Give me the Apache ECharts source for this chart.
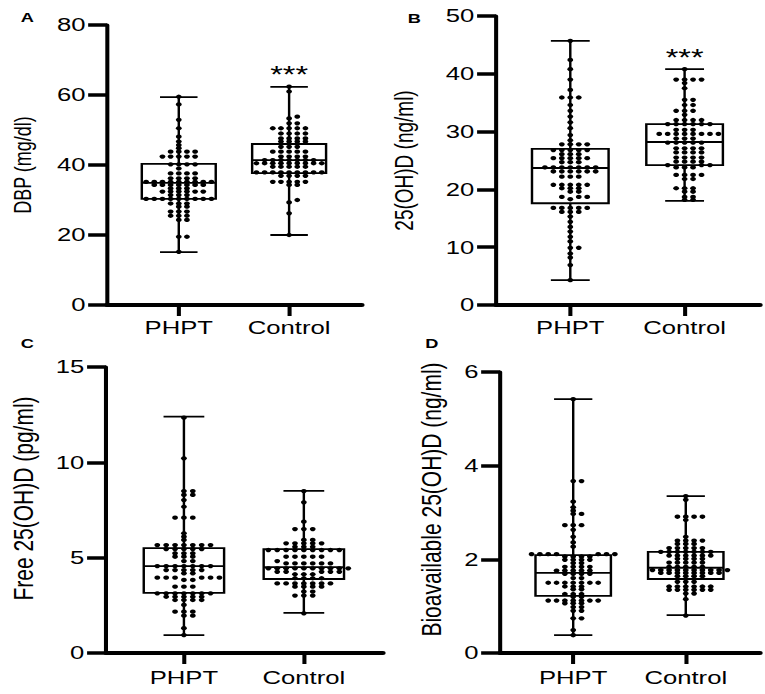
<!DOCTYPE html>
<html>
<head>
<meta charset="utf-8">
<script src="https://cdn.jsdelivr.net/npm/echarts@6.0.0/dist/echarts.min.js"></script>
<style>
  html, body { margin: 0; padding: 0; background: #fff; overflow: hidden; }
  /* the source figure is stretched horizontally, so the chart is drawn narrow and widened */
  #main { width: 567px; height: 694px; transform: scaleX(1.35); transform-origin: 0 0; }
</style>
</head>
<body>
<div id="main"></div>
<script>
const groups = ['PHPT', 'Control'];
const panelLetters = ['A', 'B', 'C', 'D'];
const axisNames = ['DBP (mg/dl)', '25(OH)D (ng/ml)', 'Free 25(OH)D (pg/ml)', 'Bioavailable 25(OH)D (ng/ml)'];
const yMax = [80, 50, 15, 6];
const yStep = [20, 10, 5, 2];
const significance = [['', '***'], ['', '***'], ['', ''], ['', '']];

// box stats per group: [min, q1, median, q3, max]
const boxA = [[15.1, 30.3, 34.9, 40.3, 59.4], [20.0, 37.7, 41.4, 46.0, 62.3]];
const boxB = [[4.3, 17.6, 23.7, 27.0, 45.7], [18.0, 24.2, 28.2, 31.3, 40.8]];
const boxC = [[0.94, 3.15, 4.56, 5.5, 12.4], [2.1, 3.88, 4.5, 5.45, 8.5]];
const boxD = [[0.38, 1.22, 1.71, 2.09, 5.42], [0.81, 1.58, 1.82, 2.16, 3.35]];

// individual subjects
const dbpPhpt = [59.5, 57.3, 52.9, 50.5, 48.1, 46.7, 45.7, 44.8,
  43.8, 43.8, 43.8, 43.8, 42.4, 42.4, 42.4, 42.4, 42.4, 40.2, 40.2, 40.2, 40.2, 39.0,
  37.6, 37.6, 37.6, 37.6, 36.2, 36.2, 36.2, 36.2,
  35.2, 35.2, 35.2, 35.2, 35.2, 35.2, 35.2, 35.2, 35.2,
  34.3, 34.3, 34.3, 34.3, 34.3, 34.3, 34.3, 33.3, 33.3, 33.3,
  32.4, 32.4, 32.4, 32.4, 32.4, 32.4, 31.4, 31.4, 31.4,
  30.3, 30.3, 30.3, 30.3, 30.3, 30.3, 30.3, 30.3, 30.3,
  29.0, 29.0, 29.0, 28.1, 28.1, 26.7, 26.7, 26.7, 25.5, 25.5, 25.5, 24.3, 24.3,
  19.5, 19.5, 15.2];
const dbpControl = [62.4, 61.0, 53.8, 53.3, 51.9, 51.9,
  50.5, 50.5, 50.5, 50.5, 50.5, 49.0, 49.0, 49.0, 49.0, 47.6, 47.6, 47.6, 47.6,
  46.7, 46.7, 46.7, 46.7, 45.2, 45.2, 45.2, 43.8, 43.8, 43.8, 43.8, 43.8,
  42.4, 42.4, 42.4, 42.4, 41.4, 41.4, 41.4, 41.4, 41.4, 41.4, 41.4,
  40.5, 40.5, 40.5, 40.5, 40.5, 40.5, 40.5, 40.5, 40.5, 39.5, 39.5, 39.5, 39.5, 39.5,
  37.9, 37.9, 37.9, 37.9, 37.9, 37.9, 37.9, 37.9, 37.9, 36.9, 36.9, 36.9, 36.9,
  35.2, 35.2, 35.2, 35.2, 35.2, 34.3, 34.3, 30.0, 29.3, 26.2, 20.0];
const vitdPhpt = [45.7, 42.4, 40.8, 39.0, 37.2, 35.9, 35.9, 35.9, 34.6, 33.6, 32.6, 31.6, 30.6, 29.4, 28.5,
  27.8, 27.8, 27.8, 27.8, 26.8, 26.8, 26.8, 26.8, 26.8, 26.1, 26.1, 26.1,
  25.4, 25.4, 25.4, 25.4, 25.4, 24.7, 24.7, 24.7,
  23.8, 23.8, 23.8, 23.8, 23.8, 23.8, 23.8, 23.1, 23.1, 23.1, 23.1, 23.1, 23.1, 22.2, 22.2, 22.2,
  20.8, 20.8, 20.8, 20.8, 20.8, 20.2, 20.2, 20.2, 19.6, 19.6, 18.7, 18.7, 18.7, 18.3,
  16.8, 16.8, 16.8, 16.8, 16.8, 16.1, 16.1, 16.1,
  15.3, 14.4, 13.5, 12.7, 11.8, 11.0, 9.9, 9.9, 8.9, 8.2, 6.9, 4.3];
const vitdControl = [40.8, 39.0, 39.0, 39.0, 39.0, 38.4, 37.5, 35.5, 35.5, 34.6, 34.6, 33.6, 33.6, 33.6, 32.9,
  32.0, 32.0, 32.0, 32.0, 31.3, 31.3, 31.3, 31.3, 31.3, 31.3, 30.3, 30.3, 30.3,
  29.6, 29.6, 29.6, 29.6, 29.6, 29.6, 29.6, 29.6, 28.8, 28.8, 28.8,
  28.1, 28.1, 28.1, 28.1, 28.1, 27.1, 27.1, 27.1, 27.1, 26.4, 26.4, 26.4, 26.4,
  25.5, 25.5, 25.5, 25.5, 24.8, 24.8, 24.8, 24.8, 24.2, 24.2, 24.2, 23.8, 23.8, 23.8,
  22.5, 22.5, 22.5, 22.5, 21.8, 21.8, 20.2, 20.2, 20.2, 19.6, 19.6, 18.7, 18.7, 18.2, 18.2];
const freePhpt = [12.34, 10.21, 8.49, 8.49, 8.29, 8.29, 8.02, 7.67, 7.10, 7.10, 7.10, 6.28, 6.10, 5.93,
  5.66, 5.66, 5.66, 5.66, 5.66, 5.66, 5.66, 5.45, 5.45, 5.45, 5.45, 5.45,
  5.23, 5.23, 5.23, 5.05, 5.05, 5.05, 4.82, 4.82,
  4.56, 4.56, 4.56, 4.56, 4.56, 4.56, 4.56, 4.35, 4.35, 4.35, 4.35, 4.35, 4.18, 4.18,
  3.95, 3.95, 3.95, 3.95, 3.95, 3.95, 3.83, 3.83, 3.48, 3.48, 3.48,
  3.13, 3.13, 3.13, 3.13, 3.13, 3.13, 3.13, 2.95, 2.95, 2.95, 2.95, 2.95, 2.78, 2.78, 2.78, 2.78,
  2.52, 2.17, 2.17, 2.17, 1.96, 1.96, 1.30, 0.94];
const freeControl = [8.49, 7.90, 6.89, 6.50, 6.50, 6.50, 5.93, 5.93,
  5.75, 5.75, 5.75, 5.75, 5.75, 5.57, 5.57, 5.57,
  5.40, 5.40, 5.40, 5.40, 5.40, 5.40, 5.40, 5.40, 5.40, 5.05, 5.05, 5.05, 5.05, 5.05, 4.82,
  4.70, 4.70, 4.70, 4.70, 4.70, 4.70, 4.44, 4.44, 4.44, 4.44, 4.44, 4.44, 4.44, 4.44, 4.44, 4.44,
  4.26, 4.26, 4.26, 4.26, 4.26, 4.13, 4.13, 4.13, 3.92, 3.92, 3.92, 3.92,
  3.65, 3.65, 3.65, 3.65, 3.65, 3.65, 3.65, 3.48, 3.48, 3.48, 3.48, 3.22, 3.22, 3.01, 3.01, 3.01, 2.08];
const bioPhpt = [5.42, 3.67, 3.67, 3.23, 3.11, 3.04, 2.97, 2.97, 2.73, 2.73, 2.73, 2.63, 2.48, 2.36, 2.27,
  2.11, 2.11, 2.11, 2.11, 2.11, 2.11, 2.11, 2.06, 2.06, 2.06, 2.06, 1.99, 1.99, 1.99, 1.99, 1.92, 1.92,
  1.84, 1.84, 1.84, 1.84, 1.76, 1.76, 1.76, 1.76, 1.76, 1.69, 1.69, 1.69, 1.69, 1.60, 1.60,
  1.50, 1.50, 1.50, 1.50, 1.50, 1.50, 1.50, 1.42, 1.42, 1.42, 1.36, 1.36,
  1.26, 1.26, 1.26, 1.20, 1.20, 1.12, 1.12, 1.12, 1.12, 1.12, 1.12, 1.12, 1.06, 1.06, 1.06,
  0.98, 0.98, 0.90, 0.90, 0.74, 0.74, 0.49, 0.38];
const bioControl = [3.35, 3.27, 2.91, 2.91, 2.91, 2.91, 2.84, 2.48, 2.40, 2.40, 2.40, 2.40, 2.33, 2.33, 2.33,
  2.24, 2.24, 2.24, 2.24, 2.24, 2.16, 2.16, 2.16, 2.16, 2.16, 2.16, 2.16,
  2.08, 2.08, 2.08, 2.08, 2.08, 2.08, 2.01, 2.01, 2.01, 2.01, 1.93, 1.93, 1.93, 1.93, 1.93,
  1.84, 1.84, 1.84, 1.84, 1.84, 1.77, 1.77, 1.77, 1.77, 1.77, 1.77, 1.77, 1.77, 1.77, 1.77,
  1.71, 1.71, 1.71, 1.71, 1.71, 1.71, 1.71, 1.71, 1.64, 1.64, 1.64, 1.64, 1.52, 1.52, 1.52,
  1.42, 1.42, 1.42, 1.42, 1.42, 1.42, 1.35, 1.35, 1.35, 1.35, 1.35, 1.35, 1.27, 1.27, 1.15, 0.80];

const boxes = [boxA, boxB, boxC, boxD];
const dots = [[dbpPhpt, dbpControl], [vitdPhpt, vitdControl], [freePhpt, freeControl], [bioPhpt, bioControl]];

// layout, in the unstretched coordinate space
const grids = [
  { left: 79.3, top: 25, width: 188.8, height: 280 },
  { left: 367.4, top: 16, width: 195.6, height: 289 },
  { left: 78.5, top: 367, width: 205.2, height: 286 },
  { left: 370.4, top: 372, width: 192.6, height: 281 }
];
const nameGaps = [53, 58, 51, 41];
const nameSizes = [18, 19, 21, 21];
const nameShift = [0, 0, 23, 26];
const letterPos = [[15.3, 10], [302, 10.5], [15.3, 335.5], [315, 335.5]];

const X_MIN = 0.35, X_MAX = 2.66;
const BOX_HALF = 0.335, CAP_HALF = 0.17;
const STEP = 0.074;     // column spacing of the dot swarm, x units
const MIN_GAP = 2.5;    // px, dots closer than this in one column get pushed aside
const FONT = "'Liberation Sans', Arial, sans-serif";

function swarm(values, center, pxPerUnit) {
    let placed = [];
    let out = [];
    values.slice().sort((a, b) => a - b).forEach(v => {
        let y = v * pxPerUnit;
        for (let k = 0; k < 40; k++) {
            let col = k === 0 ? 0 : (k % 2 ? (k + 1) / 2 : -k / 2);
            if (!placed.some(p => p.col === col && Math.abs(p.y - y) < MIN_GAP)) {
                placed.push({ col, y });
                out.push([center + col * STEP, v]);
                break;
            }
        }
    });
    return out;
}

function renderBox(params, api) {
    let x = api.value(0);
    let [mn, q1, md, q3, mx] = [1, 2, 3, 4, 5].map(i => api.value(i));
    let p = (vx, vy) => api.coord([vx, vy]);
    let style = { stroke: '#000', lineWidth: 1.8, fill: null };
    let line = (a, b) => ({ type: 'line', shape: { x1: a[0], y1: a[1], x2: b[0], y2: b[1] }, style });
    let tl = p(x - BOX_HALF, q3), br = p(x + BOX_HALF, q1);
    let sig = significance[params.seriesIndex / 2 | 0][params.dataIndex];
    let top = p(x, mx);
    return {
        type: 'group',
        children: [
            { type: 'rect', shape: { x: tl[0], y: tl[1], width: br[0] - tl[0], height: br[1] - tl[1] }, style: { stroke: '#000', lineWidth: 1.8, fill: 'rgba(0,0,0,0)' } },
            line(p(x - BOX_HALF, md), p(x + BOX_HALF, md)),
            line(p(x, q3), p(x, mx)),
            line(p(x, q1), p(x, mn)),
            line(p(x - CAP_HALF, mx), p(x + CAP_HALF, mx)),
            line(p(x - CAP_HALF, mn), p(x + CAP_HALF, mn)),
            { type: 'text', style: { text: sig, x: top[0], y: top[1], align: 'center', verticalAlign: 'bottom', font: '24px ' + FONT, fill: '#000' } }
        ]
    };
}

let xAxes = [], yAxes = [], series = [];
grids.forEach((g, i) => {
    xAxes.push({
        type: 'value', gridIndex: i, min: X_MIN, max: X_MAX,
        axisLine: { show: true, lineStyle: { color: '#000', width: 4 } },
        axisTick: { show: true, customValues: [1, 2], length: 11, lineStyle: { color: '#000', width: 3 } },
        axisLabel: { show: true, customValues: [1, 2], formatter: v => groups[Math.round(v) - 1], margin: i < 2 ? 13 : 15, color: '#000', fontSize: 19, fontFamily: FONT },
        splitLine: { show: false }
    });
    yAxes.push({
        type: 'value', gridIndex: i, min: 0, max: yMax[i], interval: yStep[i],
        name: axisNames[i], nameLocation: 'middle', nameGap: nameGaps[i],
        nameTextStyle: { color: '#000', fontSize: nameSizes[i], fontFamily: FONT, padding: [0, 0, 0, nameShift[i]] },
        axisLine: { show: true, lineStyle: { color: '#000', width: 3 } },
        axisTick: { show: true, length: 14, lineStyle: { color: '#000', width: 3.5 } },
        axisLabel: { margin: 16, color: '#000', fontSize: 19, fontFamily: FONT },
        splitLine: { show: false }
    });
    series.push({
        type: 'custom', xAxisIndex: i, yAxisIndex: i, renderItem: renderBox, z: 2,
        data: boxes[i].map((b, k) => [k + 1].concat(b))
    });
    let pxPerUnit = g.height / yMax[i];
    series.push({
        type: 'scatter', xAxisIndex: i, yAxisIndex: i, z: 3,
        symbol: 'circle', symbolSize: 4.3,
        itemStyle: { color: '#000', opacity: 1 },
        data: dots[i].flatMap((vals, k) => swarm(vals, k + 1, pxPerUnit))
    });
});

let chart = echarts.init(document.getElementById('main'), null, { renderer: 'svg', width: 567, height: 694 });
chart.setOption({
    animation: false,
    backgroundColor: '#fff',
    title: panelLetters.map((t, i) => ({
        text: t, left: letterPos[i][0], top: letterPos[i][1], padding: 0,
        textStyle: { fontSize: 13.5, fontWeight: 'bold', fontFamily: FONT, color: '#000' }
    })),
    grid: grids,
    xAxis: xAxes,
    yAxis: yAxes,
    series: series
});
</script>
</body>
</html>
